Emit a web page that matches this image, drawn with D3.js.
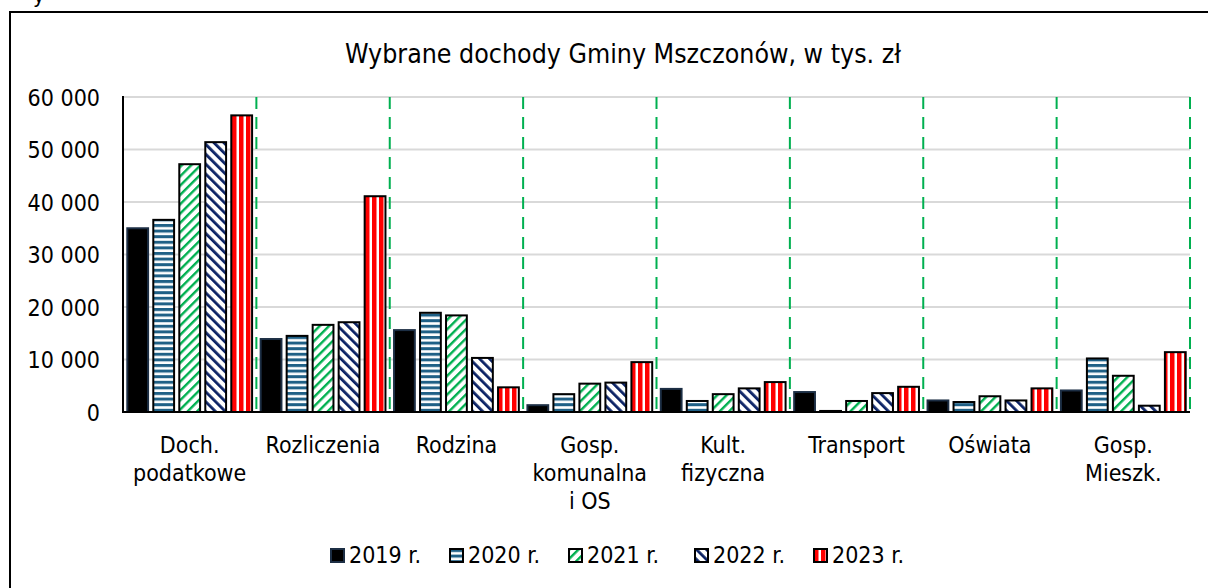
<!DOCTYPE html>
<html><head><meta charset="utf-8">
<script src="https://cdn.jsdelivr.net/npm/d3@7"></script>
<style>
body{margin:0;background:#fff;}
svg text{font-family:"DejaVu Sans Condensed","DejaVu Sans",sans-serif;font-stretch:condensed;fill:#000;}
</style></head>
<body><svg id="c" width="1208" height="588"></svg>
<script>
const categories = [["Doch.","podatkowe"],["Rozliczenia"],["Rodzina"],["Gosp.","komunalna","i OS"],["Kult.","fizyczna"],["Transport"],["Oświata"],["Gosp.","Mieszk."]];
const seriesNames = ["2019 r.","2020 r.","2021 r.","2022 r.","2023 r."];
const v2019 = [35000,13900,15600,1300,4400,3800,2200,4100];
const v2020 = [36600,14500,18900,3400,2100,200,1900,10200];
const v2021 = [47200,16600,18400,5400,3400,2100,3000,6900];
const v2022 = [51400,17100,10300,5600,4500,3600,2200,1200];
const v2023 = [56500,41100,4700,9500,5700,4800,4500,11400];
const yTicks = [0,10000,20000,30000,40000,50000,60000];
const title = "Wybrane dochody Gminy Mszczonów, w tys. zł";

const values = [v2019,v2020,v2021,v2022,v2023];
const svg = d3.select("#c");
const defs = svg.append("defs");

function stripePattern(id, w, rot){
  const p = defs.append("pattern").attr("id",id).attr("patternUnits","userSpaceOnUse")
    .attr("width",w).attr("height",w);
  if(rot!==null) p.attr("patternTransform",rot);
  p.append("rect").attr("width",w).attr("height",w).attr("fill","#fff");
  return p;
}
let p;
p = stripePattern("p2020",5.6,null);
p.append("rect").attr("width",5.6).attr("height",3).attr("fill","#1f6086");
p = stripePattern("p2021",6.6,"rotate(45)");
p.append("rect").attr("width",2.4).attr("height",6.6).attr("fill","#00b050");
p = stripePattern("p2022",7,"rotate(-45)");
p.append("rect").attr("width",2.8).attr("height",7).attr("fill","#0b2265");
p = stripePattern("p2023",7,"translate(1,0)");
p.append("rect").attr("width",4.5).attr("height",7).attr("fill","#ff0000");

const fills = ["#000","url(#p2020)","url(#p2021)","url(#p2022)","url(#p2023)"];
const strokes = ["#1c2e44","#000","#000","#000","#000"];

// frame
svg.append("path").attr("d","M10,600 V12 H1220").attr("fill","none").attr("stroke","#000").attr("stroke-width",2);
svg.append("text").attr("x",33).attr("y",3).attr("font-size",22).text("y");

const L=123, R=1190, T=97, B=412;
const x = d3.scaleBand().domain(d3.range(categories.length)).range([L,R]).paddingInner(0).paddingOuter(0);
const xs = d3.scaleBand().domain(d3.range(seriesNames.length)).range([0,x.bandwidth()]).paddingInner(0.2).paddingOuter(0.165);
const y = d3.scaleLinear().domain([0,60000]).range([B,T]);

// title
svg.append("text").attr("x",623).attr("y",63).attr("text-anchor","middle").attr("font-size",26.5).text(title);

// gridlines
svg.append("g").selectAll("line").data(yTicks.filter(d=>d>0)).join("line")
  .attr("x1",L).attr("x2",R).attr("y1",d=>y(d)).attr("y2",d=>y(d))
  .attr("stroke","#d9d9d9").attr("stroke-width",2);

// dividers
svg.append("g").selectAll("line").data(d3.range(1,categories.length+1)).join("line")
  .attr("x1",d=>x(d-1)+x.bandwidth()).attr("x2",d=>x(d-1)+x.bandwidth())
  .attr("y1",T).attr("y2",B)
  .attr("stroke","#00b050").attr("stroke-width",2).attr("stroke-dasharray","12,8");

// y axis labels
const fmt = d=> d3.format(",")(d).replace(/,/g," ");
svg.append("g").selectAll("text").data(yTicks).join("text")
  .attr("x",100).attr("y",d=>y(d)+8.5).attr("text-anchor","end").attr("font-size",23).text(fmt);

// bars
values.forEach((vals,si)=>{
  svg.append("g").selectAll("rect").data(vals).join("rect")
    .attr("x",(d,i)=>x(i)+xs(si)).attr("width",xs.bandwidth())
    .attr("y",d=>y(d)).attr("height",d=>B-y(d))
    .attr("fill",fills[si]).attr("stroke",strokes[si]).attr("stroke-width",2);
});

// axes lines
svg.append("line").attr("x1",L).attr("x2",L).attr("y1",T-1).attr("y2",B+1).attr("stroke","#000").attr("stroke-width",2);
svg.append("line").attr("x1",L).attr("x2",R).attr("y1",B).attr("y2",B).attr("stroke","#000").attr("stroke-width",2);

// category labels
const cg = svg.append("g").selectAll("text").data(categories).join("text")
  .attr("text-anchor","middle").attr("font-size",23);
cg.each(function(lines,i){
  d3.select(this).selectAll("tspan").data(lines).join("tspan")
    .attr("x",x(i)+x.bandwidth()/2).attr("y",(d,j)=>453+j*28).text(d=>d);
});

// legend
const legX = [330,449,568,694,813];
const lg = svg.append("g").selectAll("g").data(seriesNames).join("g")
  .attr("transform",(d,i)=>`translate(${legX[i]},549)`);
lg.append("rect").attr("x",1).attr("y",0).attr("width",13).attr("height",13)
  .attr("fill",(d,i)=>fills[i]).attr("stroke",(d,i)=>strokes[i]).attr("stroke-width",2);
lg.append("text").attr("x",19).attr("y",14).attr("font-size",23).text(d=>d);
</script></body></html>
